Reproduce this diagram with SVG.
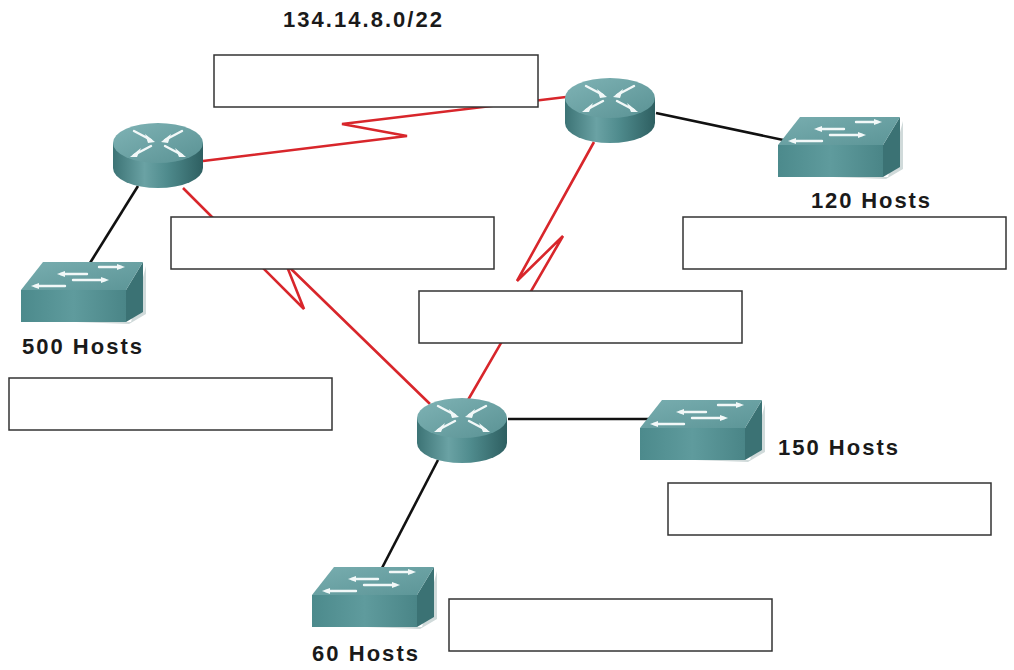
<svg xmlns="http://www.w3.org/2000/svg" xmlns:xlink="http://www.w3.org/1999/xlink" width="1014" height="670" viewBox="0 0 1014 670">
<style>
.serial{fill:none;stroke:#d8262b;stroke-width:2.6;stroke-linejoin:miter}
.eth{fill:none;stroke:#111;stroke-width:2.6}
.box{fill:#fff;stroke:#333;stroke-width:1.5}
.lbl{font-family:"Liberation Sans",Arial,sans-serif;font-weight:bold;font-size:22px;fill:#1a1a1a}
.arr{fill:none;stroke:#f2f8f8;stroke-width:2.4;stroke-linecap:round}
.ah{fill:#f2f8f8}
</style>
<defs>
<linearGradient id="rbody" x1="0" y1="0" x2="1" y2="0">
<stop offset="0" stop-color="#3c7375"/>
<stop offset="0.35" stop-color="#6aa2a4"/>
<stop offset="0.6" stop-color="#4f8b8d"/>
<stop offset="1" stop-color="#2e5f61"/>
</linearGradient>
<linearGradient id="rtop" x1="0" y1="0" x2="1" y2="1">
<stop offset="0" stop-color="#7fb3b5"/>
<stop offset="1" stop-color="#5a9294"/>
</linearGradient>
<linearGradient id="sfront" x1="0" y1="0" x2="1" y2="0">
<stop offset="0" stop-color="#4c8a8c"/>
<stop offset="0.5" stop-color="#5f9b9d"/>
<stop offset="1" stop-color="#4a8587"/>
</linearGradient>
<linearGradient id="stop" x1="0" y1="0" x2="1" y2="1">
<stop offset="0" stop-color="#78adaf"/>
<stop offset="1" stop-color="#5c9597"/>
</linearGradient>
<g id="router">
<path d="M-45,0 L-45,25 A45,20 0 0 0 45,25 L45,0 Z" fill="url(#rbody)"/>
<ellipse cx="0" cy="0" rx="45" ry="20" fill="url(#rtop)"/>
<path class="arr" d="M-24,-12 L-7,-3 M24,-12 L7,-3 M-7,3 L-24,12 M7,3 L24,12"/>
<polygon class="ah" points="-3,-1 -13,-9 -10,0"/>
<polygon class="ah" points="3,-1 13,-9 10,0"/>
<polygon class="ah" points="-28,14 -17,5 -21,14"/>
<polygon class="ah" points="28,14 17,5 21,14"/>
</g>
<g id="switch">
<polygon points="2,58 108,62 125,52 125,4 110,60 4,60" fill="#d0dada"/>
<polygon points="105,28 122,0 122,50 105,60" fill="#3b7274"/>
<polygon points="0,28 105,28 105,60 0,60" fill="url(#sfront)"/>
<polygon points="22,0 122,0 105,28 0,28" fill="url(#stop)"/>
<path class="arr" d="M78,5 L100,5 M40,12 L66,12 M52,18 L84,18 M14,24 L44,24"/>
<polygon class="ah" points="104,5 96,2 96,8"/>
<polygon class="ah" points="36,12 44,9 44,15"/>
<polygon class="ah" points="88,18 80,15 80,21"/>
<polygon class="ah" points="10,24 18,21 18,27"/>
</g>
</defs>
<rect width="1014" height="670" fill="#fff"/>
<g id="connectors">
<path class="serial" d="M203,161 L407,136 L342,124 L566,97"/>
<path class="serial" d="M594,142 L517,281 L563,236 L468,400"/>
<path class="serial" d="M183,188 L304,309 L286,264 L430,404"/>
<path class="eth" d="M138,186 L90,263"/>
<path class="eth" d="M656,113 L788,141"/>
<path class="eth" d="M508,419 L658,419"/>
<path class="eth" d="M438,460 L382,568"/>
</g>
<g id="router-1"><use xlink:href="#router" x="158" y="143"/></g>
<g id="router-2"><use xlink:href="#router" x="610" y="98"/></g>
<g id="router-3"><use xlink:href="#router" x="462" y="418"/></g>
<g id="switch-500"><use xlink:href="#switch" x="21" y="262"/><text class="lbl" x="22" y="354" textLength="120" lengthAdjust="spacing">500 Hosts</text></g>
<g id="switch-120"><use xlink:href="#switch" x="778" y="117"/><text class="lbl" x="811" y="208" textLength="119" lengthAdjust="spacing">120 Hosts</text></g>
<g id="switch-150"><use xlink:href="#switch" x="640" y="400"/><text class="lbl" x="778" y="455" textLength="120" lengthAdjust="spacing">150 Hosts</text></g>
<g id="switch-60"><use xlink:href="#switch" x="312" y="567"/><text class="lbl" x="312" y="661" textLength="106" lengthAdjust="spacing">60 Hosts</text></g>
<g id="network-label"><text class="lbl" x="283" y="27" textLength="159" lengthAdjust="spacing">134.14.8.0/22</text></g>
<g id="boxes">
<rect class="box" x="214" y="55" width="324" height="52"/>
<rect class="box" x="171" y="217" width="323" height="52"/>
<rect class="box" x="683" y="217" width="323" height="52"/>
<rect class="box" x="419" y="291" width="323" height="52"/>
<rect class="box" x="9" y="378" width="323" height="52"/>
<rect class="box" x="668" y="483" width="323" height="52"/>
<rect class="box" x="449" y="599" width="323" height="52"/>
</g>
</svg>
